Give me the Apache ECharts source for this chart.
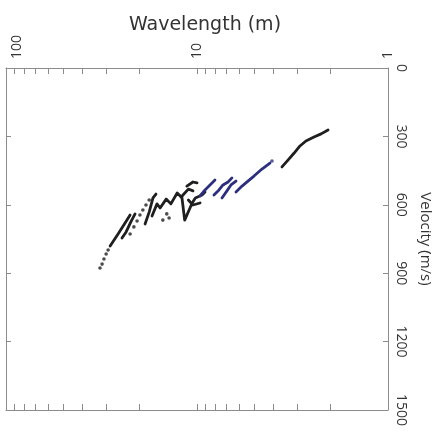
<!DOCTYPE html>
<html><head><meta charset="utf-8">
<script src="https://cdn.jsdelivr.net/npm/echarts@6/dist/echarts.min.js"></script>
<style>html,body{margin:0;padding:0;background:#fff}#c{width:442px;height:433px}</style>
</head><body><div id="c"></div>
<script>
// Axis ticks
const wavelengthLabels = [1, 10, 100];
const wavelengthMinorTicks = [2,3,4,5,6,7,8,9,10,20,30,40,50,60,70,80,90];
const velocityTicks = [0, 300, 600, 900, 1200, 1500];

// Dispersion picks: [wavelength (m), velocity (m/s)]
const blackDotsTail = [[32.2,877],[31.4,860],[30.7,838],[29.9,816],[29.2,798]];
const blackA = [[28.5,781],[25.9,728],[23.8,680],[22.4,645]];
const blackB = [[24.7,746],[23.5,719],[22.2,675],[21.1,640]];
const blackDotsMid = [[22.4,728],[21.4,697],[20.6,671],[19.9,645],[19.2,623],[18.5,601],[17.8,579]];
const blackC = [[18.7,684],[17.8,632],[17.0,570],[16.4,553]];
const blackD = [[17.2,649],[16.2,596],[15.6,614],[14.5,575],[13.7,596],[12.7,548],[12.1,566],[11.1,531],[10.5,539]];
const blackDotsLow = [[15.1,667],[14.4,640],[14.0,658]];
const blackE = [[12.0,566],[11.6,667],[10.6,592],[10.2,570],[9.41,557],[9.08,544]];
const blackZTop = [[11.3,518],[10.5,500],[10.0,504]];
const blackZBottom = [[11.1,579],[10.5,601],[9.64,592]];
const blue1 = [[9.64,561],[9.08,535],[8.55,513],[8.05,491]];
const blue2 = [[8.15,557],[7.67,535],[7.31,513],[6.88,500],[6.56,482]];
const blue3 = [[7.40,570],[6.97,539],[6.64,513],[6.25,496]];
const blue4 = [[6.25,544],[5.81,518],[5.41,496],[5.03,474],[4.57,443],[4.15,417]];
const blueDot = [[4.05,408]];
const blackF = [[3.59,434],[3.34,404],[3.10,373],[2.89,342],[2.69,320],[2.44,303],[2.24,289],[2.06,272]];

const BLACK = '#1f1f1f', BLUE = '#2c2f7e', AXIS = '#8c8c8c', TXT = '#333';

function lineS(data, color) {
  return {type:'line', data, xAxisIndex:0, yAxisIndex:0, showSymbol:false, symbol:'none',
    lineStyle:{color, width:2.8, cap:'round', join:'round'}, silent:true, animation:false, z:3};
}
function dotS(data, color) {
  return {type:'scatter', data, xAxisIndex:0, yAxisIndex:0, symbolSize:3.6,
    itemStyle:{color}, silent:true, animation:false, z:3};
}

const chart = echarts.init(document.getElementById('c'), null, {renderer:'canvas'});
const xBase = {
  type:'log', logBase:10, min:1, max:100, inverse:true,
  axisLine:{show:true, onZero:false, lineStyle:{color:AXIS, width:1}},
  splitLine:{show:false}
};
chart.setOption({
  animation:false,
  grid:{left:6, right:54, top:68, bottom:23, outerBoundsMode:'none', containLabel:false},
  xAxis:[
    Object.assign({}, xBase, {
      position:'top',
      name:'Wavelength (m)', nameLocation:'middle', nameGap:33, nameMoveOverlap:false,
      nameTextStyle:{fontFamily:'DejaVu Sans', fontSize:19, color:TXT, padding:[0,0,0,16]},
      axisTick:{show:true, inside:true, length:6, lineStyle:{color:AXIS}, customValues:wavelengthMinorTicks},
      axisLabel:{show:true, rotate:-90, margin:9, fontFamily:'Open Sans', fontSize:14, color:TXT,
        customValues:wavelengthLabels, showMinLabel:true, showMaxLabel:true, hideOverlap:false,
        formatter: v => (v === 100 ? '{m|100}' : String(v)),
        rich:{m:{fontFamily:'Open Sans', fontSize:14, color:TXT, padding:[22,0,0,0]}}}
    }),
    Object.assign({}, xBase, {
      position:'bottom',
      axisTick:{show:true, inside:true, length:6, lineStyle:{color:AXIS}, customValues:wavelengthMinorTicks},
      axisLabel:{show:false}
    })
  ],
  yAxis:[
    {
      type:'value', min:0, max:1500, interval:300, inverse:true, position:'right',
      name:'Velocity (m/s)', nameLocation:'middle', nameGap:30, nameRotate:-90, nameMoveOverlap:false,
      nameTextStyle:{fontFamily:'Open Sans', fontSize:15, color:TXT},
      axisLine:{show:true, onZero:false, lineStyle:{color:AXIS}},
      axisTick:{show:true, inside:true, length:5, lineStyle:{color:AXIS}},
      axisLabel:{rotate:-90, margin:6, fontFamily:'Open Sans', fontSize:14, color:TXT,
        customValues:velocityTicks, formatter: v => String(v)},
      splitLine:{show:false}
    },
    {
      type:'value', min:0, max:1500, interval:300, inverse:true, position:'left',
      axisLine:{show:true, onZero:false, lineStyle:{color:AXIS}},
      axisTick:{show:true, inside:true, length:5, lineStyle:{color:AXIS}},
      axisLabel:{show:false},
      splitLine:{show:false}
    }
  ],
  series:[
    dotS(blackDotsTail, BLACK),
    lineS(blackA, BLACK),
    lineS(blackB, BLACK),
    dotS(blackDotsMid, BLACK),
    lineS(blackC, BLACK),
    lineS(blackD, BLACK),
    dotS(blackDotsLow, BLACK),
    lineS(blackE, BLACK),
    lineS(blackZTop, BLACK),
    lineS(blackZBottom, BLACK),
    lineS(blue1, BLUE),
    lineS(blue2, BLUE),
    lineS(blue3, BLUE),
    lineS(blue4, BLUE),
    dotS(blueDot, BLUE),
    lineS(blackF, BLACK)
  ]
});
</script></body></html>
